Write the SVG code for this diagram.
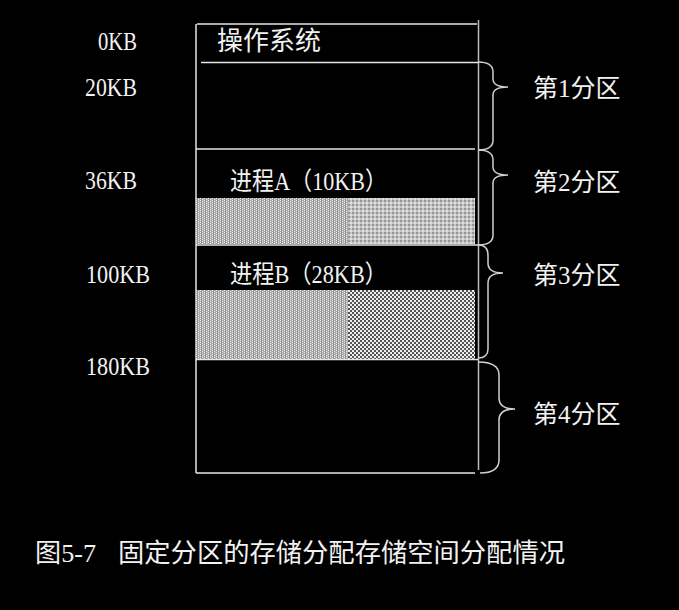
<svg xmlns="http://www.w3.org/2000/svg" width="679" height="610" viewBox="0 0 679 610">
<style>
.t{font-family:"Liberation Serif","Noto Sans CJK SC",serif;fill:#f2f2f2}
.c{font-family:"Noto Sans CJK SC","Liberation Serif",sans-serif;fill:#f2f2f2}
.ln{stroke:#e6e6e6;stroke-width:1.5;fill:none}
.br{stroke:#cfcfcf;stroke-width:1.5;fill:none}
</style>
<defs>
<pattern id="pL" patternUnits="userSpaceOnUse" width="4" height="4">
<rect width="4" height="4" fill="#acacac"/>
<rect x="0" y="0" width="1" height="1" fill="#ececec"/>
<rect x="2" y="1" width="1" height="1" fill="#ececec"/>
<rect x="0" y="2" width="1" height="1" fill="#ececec"/>
<rect x="2" y="3" width="1" height="1" fill="#ececec"/>
<rect x="1" y="0" width="1" height="4" fill="#909090"/>
</pattern>
<pattern id="pRA" patternUnits="userSpaceOnUse" width="4" height="4">
<rect width="4" height="4" fill="#c4c4c4"/>
<rect x="0" y="0" width="2" height="2" fill="#969696"/>
<rect x="2" y="2" width="2" height="2" fill="#e0e0e0"/>
</pattern>
<pattern id="pRB" patternUnits="userSpaceOnUse" width="4" height="4">
<rect width="4" height="4" fill="#eeeeee"/>
<rect x="0" y="0" width="2" height="2" fill="#555"/>
<rect x="2" y="2" width="2" height="2" fill="#555"/>
</pattern>
</defs>
<rect width="679" height="610" fill="#000"/>

<g id="memory">
<line class="ln" x1="197" y1="24" x2="477" y2="24"/>
<line class="ln" x1="196" y1="24" x2="196" y2="473"/>
<line class="ln" x1="196" y1="473" x2="475" y2="473"/>
<line x1="478.5" y1="20" x2="478.5" y2="470" stroke="#bdbdbd" stroke-width="1.5"/>
<line class="ln" x1="201" y1="62.5" x2="478" y2="62.5"/>
<line class="ln" x1="196" y1="149" x2="475" y2="149"/>
<line class="ln" x1="196" y1="245" x2="478" y2="245"/>
<line class="ln" x1="196" y1="359.5" x2="478" y2="359.5"/>
</g>

<g id="os">
<text class="c" x="217" y="50" font-size="26">操作系统</text>
</g>

<g id="procA">
<rect x="196" y="198" width="152" height="46" fill="url(#pL)"/>
<rect x="348" y="198" width="127" height="46" fill="url(#pRA)"/>
<text class="t" x="230" y="190" font-size="25" textLength="157" lengthAdjust="spacingAndGlyphs">进程A（10KB）</text>
</g>

<g id="procB">
<rect x="196" y="290" width="152" height="69" fill="url(#pL)"/>
<rect x="348" y="290" width="127" height="69" fill="url(#pRB)"/>
<text class="t" x="230" y="283" font-size="25" textLength="157" lengthAdjust="spacingAndGlyphs">进程B（28KB）</text>
</g>

<g id="addresses">
<text class="t" x="98" y="50" font-size="26" textLength="39" lengthAdjust="spacingAndGlyphs">0KB</text>
<text class="t" x="85" y="96" font-size="26" textLength="52" lengthAdjust="spacingAndGlyphs">20KB</text>
<text class="t" x="85" y="189" font-size="26" textLength="52" lengthAdjust="spacingAndGlyphs">36KB</text>
<text class="t" x="86" y="283" font-size="26" textLength="64" lengthAdjust="spacingAndGlyphs">100KB</text>
<text class="t" x="86" y="375" font-size="26" textLength="64" lengthAdjust="spacingAndGlyphs">180KB</text>
</g>

<g id="connectors">
<path class="br" d="M478,62 Q493,62 493,72 L493,79 Q493,87 508,87 Q493,87 493,95 L493,140 Q493,150 478,150"/>
<path class="br" d="M478,150 Q493,150 493,160 L493,167 Q493,175 508,175 Q493,175 493,183 L493,235 Q493,245 478,245"/>
<path class="br" d="M478,245 Q488,245 488,255 L488,263 Q488,273 503,273 Q488,273 488,283 L488,349 Q488,358 478,358"/>
<path class="br" d="M478,362 Q499,362 499,375 L499,398 Q499,409 515,409 Q499,409 499,420 L499,460 Q499,473 480,473"/>
</g>

<g id="partitions">
<text class="t" x="533" y="97" font-size="25">第1分区</text>
<text class="t" x="533" y="191" font-size="25">第2分区</text>
<text class="t" x="533" y="284" font-size="25">第3分区</text>
<text class="t" x="533" y="423" font-size="25">第4分区</text>
</g>

<g id="caption">
<text class="t" x="35" y="562" font-size="26" textLength="61" lengthAdjust="spacingAndGlyphs">图5-7</text>
<text class="t" x="118" y="562" font-size="26" textLength="447" lengthAdjust="spacingAndGlyphs">固定分区的存储分配存储空间分配情况</text>
</g>
</svg>
